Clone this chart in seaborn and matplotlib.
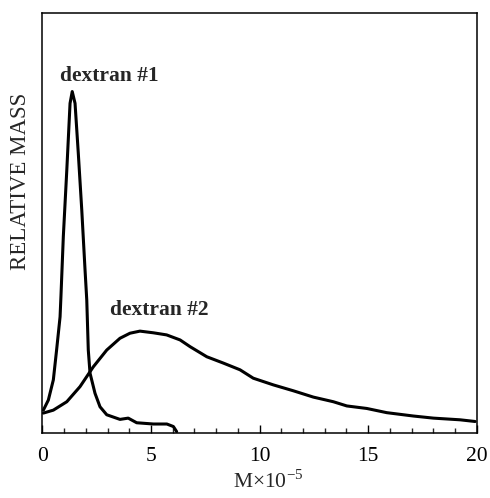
import numpy as np
import pandas as pd
import matplotlib
matplotlib.use("Agg")
import matplotlib.pyplot as plt
import seaborn as sns

# dextran #1 (narrow peak)
x1 = [0.04, 0.27, 0.50, 0.65, 0.81, 0.85, 0.96, 1.12, 1.27, 1.37, 1.50, 1.65, 1.81, 1.96,
      2.04, 2.11, 2.19, 2.42, 2.65, 2.96, 3.57, 3.95, 4.34, 5.11, 5.73, 6.03, 6.18]
y1 = [0.055, 0.079, 0.127, 0.198, 0.277, 0.325, 0.468, 0.626, 0.785, 0.813, 0.785, 0.666,
      0.531, 0.389, 0.317, 0.198, 0.143, 0.095, 0.063, 0.044, 0.033, 0.036, 0.025, 0.022,
      0.022, 0.016, 0.004]

# dextran #2 (broad distribution)
x2 = [0.04, 0.50, 1.12, 1.73, 2.34, 2.96, 3.57, 4.03, 4.49, 5.11, 5.72, 6.34, 6.80, 7.57,
      8.33, 9.10, 9.71, 10.64, 11.56, 12.48, 13.40, 14.02, 14.94, 15.86, 17.09, 18.01,
      19.24, 19.93]
y2 = [0.048, 0.055, 0.075, 0.111, 0.158, 0.198, 0.226, 0.238, 0.243, 0.239, 0.234, 0.222,
      0.206, 0.182, 0.167, 0.151, 0.131, 0.115, 0.101, 0.086, 0.075, 0.065, 0.059, 0.049,
      0.041, 0.036, 0.032, 0.028]

xticks = [0, 5, 10, 15, 20]

sns.set_theme(style="ticks")
plt.rcParams["font.family"] = ["Liberation Serif", "DejaVu Serif"]
plt.rcParams["mathtext.fontset"] = "stix"

fig = plt.figure(figsize=(4.9, 4.98), dpi=100)
ax = fig.add_axes([0.0867, 0.130, 0.886, 0.844])

d1 = pd.DataFrame({"M": x1, "mass": y1})
d2 = pd.DataFrame({"M": x2, "mass": y2})
sns.lineplot(data=d1, x="M", y="mass", sort=False, estimator=None, color="black", lw=2.2, ax=ax)
sns.lineplot(data=d2, x="M", y="mass", sort=False, estimator=None, color="black", lw=2.2, ax=ax)

ax.set_xlim(0, 20)
ax.set_ylim(0, 1)
ax.set_xticks(xticks)
ax.set_xticks(np.arange(0, 21, 1), minor=True)
ax.set_yticks([])
ax.tick_params(axis="x", which="major", direction="in", length=5.5, width=1, pad=10,
               labelsize=15.5, colors="black")
ax.tick_params(axis="x", which="minor", direction="in", length=3.5, width=1)
for s in ax.spines.values():
    s.set_linewidth(1.1)
    s.set_color("black")

ax.set_xlabel("M\u00d710$^{\\mathregular{-5}}$", fontsize=15.5)
ax.xaxis.set_label_coords(0.52, -0.088)
ax.set_ylabel("RELATIVE MASS", fontsize=16.5)
ax.yaxis.set_label_coords(-0.026, 0.6)

ax.text(0.81, 0.85, "dextran #1", fontsize=15.5, fontweight="bold", va="center")
ax.text(3.11, 0.293, "dextran #2", fontsize=15.5, fontweight="bold", va="center")

fig.savefig("out.png", dpi=100)
